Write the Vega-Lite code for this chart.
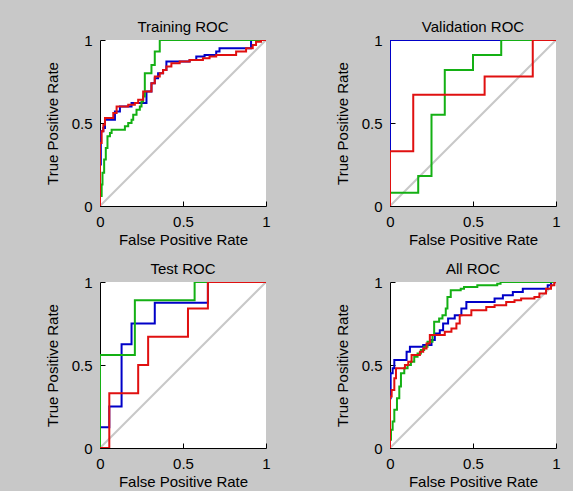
{
  "$schema": "https://vega.github.io/schema/vega-lite/v6.json",
  "background": "#c8c8c8",
  "autosize": {"type": "pad"},
  "padding": {"left": 45, "top": 20, "right": 12, "bottom": 2},
  "columns": 2,
  "bounds": "flush",
  "spacing": {"row": 76, "column": 124},
  "datasets": {
    "roc": [
      {"p":"train","c":"d","fpr":0,"tpr":0},{"p":"train","c":"d","fpr":1,"tpr":1},
      {"p":"train","c":"b","fpr":0,"tpr":0},{"p":"train","c":"b","fpr":0,"tpr":0.25},{"p":"train","c":"b","fpr":0.005,"tpr":0.45},{"p":"train","c":"b","fpr":0.02,"tpr":0.47},{"p":"train","c":"b","fpr":0.03,"tpr":0.52},{"p":"train","c":"b","fpr":0.09,"tpr":0.57},{"p":"train","c":"b","fpr":0.12,"tpr":0.6},{"p":"train","c":"b","fpr":0.19,"tpr":0.62},{"p":"train","c":"b","fpr":0.28,"tpr":0.69},{"p":"train","c":"b","fpr":0.31,"tpr":0.74},{"p":"train","c":"b","fpr":0.33,"tpr":0.77},{"p":"train","c":"b","fpr":0.35,"tpr":0.8},{"p":"train","c":"b","fpr":0.38,"tpr":0.82},{"p":"train","c":"b","fpr":0.4,"tpr":0.87},{"p":"train","c":"b","fpr":0.54,"tpr":0.88},{"p":"train","c":"b","fpr":0.58,"tpr":0.9},{"p":"train","c":"b","fpr":0.63,"tpr":0.91},{"p":"train","c":"b","fpr":0.7,"tpr":0.93},{"p":"train","c":"b","fpr":0.72,"tpr":0.95},{"p":"train","c":"b","fpr":0.91,"tpr":1},{"p":"train","c":"b","fpr":1,"tpr":1},
      {"p":"train","c":"g","fpr":0,"tpr":0},{"p":"train","c":"g","fpr":0,"tpr":0.06},{"p":"train","c":"g","fpr":0.01,"tpr":0.13},{"p":"train","c":"g","fpr":0.015,"tpr":0.2},{"p":"train","c":"g","fpr":0.025,"tpr":0.28},{"p":"train","c":"g","fpr":0.035,"tpr":0.35},{"p":"train","c":"g","fpr":0.045,"tpr":0.42},{"p":"train","c":"g","fpr":0.06,"tpr":0.44},{"p":"train","c":"g","fpr":0.07,"tpr":0.46},{"p":"train","c":"g","fpr":0.15,"tpr":0.48},{"p":"train","c":"g","fpr":0.17,"tpr":0.5},{"p":"train","c":"g","fpr":0.19,"tpr":0.52},{"p":"train","c":"g","fpr":0.2,"tpr":0.55},{"p":"train","c":"g","fpr":0.22,"tpr":0.58},{"p":"train","c":"g","fpr":0.24,"tpr":0.6},{"p":"train","c":"g","fpr":0.25,"tpr":0.63},{"p":"train","c":"g","fpr":0.26,"tpr":0.66},{"p":"train","c":"g","fpr":0.27,"tpr":0.8},{"p":"train","c":"g","fpr":0.31,"tpr":0.85},{"p":"train","c":"g","fpr":0.33,"tpr":0.93},{"p":"train","c":"g","fpr":0.36,"tpr":1},{"p":"train","c":"g","fpr":1,"tpr":1},
      {"p":"train","c":"r","fpr":0,"tpr":0},{"p":"train","c":"r","fpr":0,"tpr":0.38},{"p":"train","c":"r","fpr":0.01,"tpr":0.45},{"p":"train","c":"r","fpr":0.02,"tpr":0.49},{"p":"train","c":"r","fpr":0.03,"tpr":0.53},{"p":"train","c":"r","fpr":0.08,"tpr":0.56},{"p":"train","c":"r","fpr":0.1,"tpr":0.6},{"p":"train","c":"r","fpr":0.17,"tpr":0.61},{"p":"train","c":"r","fpr":0.21,"tpr":0.62},{"p":"train","c":"r","fpr":0.23,"tpr":0.64},{"p":"train","c":"r","fpr":0.26,"tpr":0.69},{"p":"train","c":"r","fpr":0.31,"tpr":0.74},{"p":"train","c":"r","fpr":0.33,"tpr":0.78},{"p":"train","c":"r","fpr":0.36,"tpr":0.8},{"p":"train","c":"r","fpr":0.38,"tpr":0.82},{"p":"train","c":"r","fpr":0.4,"tpr":0.84},{"p":"train","c":"r","fpr":0.43,"tpr":0.86},{"p":"train","c":"r","fpr":0.48,"tpr":0.87},{"p":"train","c":"r","fpr":0.54,"tpr":0.88},{"p":"train","c":"r","fpr":0.62,"tpr":0.89},{"p":"train","c":"r","fpr":0.66,"tpr":0.9},{"p":"train","c":"r","fpr":0.7,"tpr":0.91},{"p":"train","c":"r","fpr":0.82,"tpr":0.93},{"p":"train","c":"r","fpr":0.88,"tpr":0.95},{"p":"train","c":"r","fpr":0.92,"tpr":0.97},{"p":"train","c":"r","fpr":0.94,"tpr":0.99},{"p":"train","c":"r","fpr":0.97,"tpr":1},{"p":"train","c":"r","fpr":1,"tpr":1},

      {"p":"val","c":"d","fpr":0,"tpr":0},{"p":"val","c":"d","fpr":1,"tpr":1},
      {"p":"val","c":"b","fpr":0,"tpr":0},{"p":"val","c":"b","fpr":0,"tpr":1},{"p":"val","c":"b","fpr":1,"tpr":1},
      {"p":"val","c":"g","fpr":0,"tpr":0},{"p":"val","c":"g","fpr":0,"tpr":0.08},{"p":"val","c":"g","fpr":0.17,"tpr":0.18},{"p":"val","c":"g","fpr":0.25,"tpr":0.55},{"p":"val","c":"g","fpr":0.33,"tpr":0.82},{"p":"val","c":"g","fpr":0.5,"tpr":0.91},{"p":"val","c":"g","fpr":0.67,"tpr":1},{"p":"val","c":"g","fpr":1,"tpr":1},
      {"p":"val","c":"r","fpr":0,"tpr":0},{"p":"val","c":"r","fpr":0,"tpr":0.33},{"p":"val","c":"r","fpr":0.14,"tpr":0.67},{"p":"val","c":"r","fpr":0.57,"tpr":0.78},{"p":"val","c":"r","fpr":0.86,"tpr":1},{"p":"val","c":"r","fpr":1,"tpr":1},

      {"p":"test","c":"d","fpr":0,"tpr":0},{"p":"test","c":"d","fpr":1,"tpr":1},
      {"p":"test","c":"b","fpr":0,"tpr":0},{"p":"test","c":"b","fpr":0,"tpr":0.125},{"p":"test","c":"b","fpr":0.056,"tpr":0.25},{"p":"test","c":"b","fpr":0.13,"tpr":0.625},{"p":"test","c":"b","fpr":0.19,"tpr":0.75},{"p":"test","c":"b","fpr":0.33,"tpr":0.875},{"p":"test","c":"b","fpr":0.65,"tpr":1},{"p":"test","c":"b","fpr":1,"tpr":1},
      {"p":"test","c":"g","fpr":0,"tpr":0},{"p":"test","c":"g","fpr":0,"tpr":0.56},{"p":"test","c":"g","fpr":0.21,"tpr":0.89},{"p":"test","c":"g","fpr":0.57,"tpr":1},{"p":"test","c":"g","fpr":1,"tpr":1},
      {"p":"test","c":"r","fpr":0,"tpr":0},{"p":"test","c":"r","fpr":0.056,"tpr":0.33},{"p":"test","c":"r","fpr":0.23,"tpr":0.5},{"p":"test","c":"r","fpr":0.29,"tpr":0.67},{"p":"test","c":"r","fpr":0.53,"tpr":0.84},{"p":"test","c":"r","fpr":0.65,"tpr":1},{"p":"test","c":"r","fpr":1,"tpr":1},

      {"p":"all","c":"d","fpr":0,"tpr":0},{"p":"all","c":"d","fpr":1,"tpr":1},
      {"p":"all","c":"b","fpr":0,"tpr":0},{"p":"all","c":"b","fpr":0,"tpr":0.3},{"p":"all","c":"b","fpr":0.004,"tpr":0.45},{"p":"all","c":"b","fpr":0.016,"tpr":0.48},{"p":"all","c":"b","fpr":0.026,"tpr":0.53},{"p":"all","c":"b","fpr":0.1,"tpr":0.58},{"p":"all","c":"b","fpr":0.12,"tpr":0.61},{"p":"all","c":"b","fpr":0.2,"tpr":0.62},{"p":"all","c":"b","fpr":0.25,"tpr":0.65},{"p":"all","c":"b","fpr":0.27,"tpr":0.69},{"p":"all","c":"b","fpr":0.3,"tpr":0.71},{"p":"all","c":"b","fpr":0.32,"tpr":0.75},{"p":"all","c":"b","fpr":0.35,"tpr":0.78},{"p":"all","c":"b","fpr":0.39,"tpr":0.8},{"p":"all","c":"b","fpr":0.43,"tpr":0.84},{"p":"all","c":"b","fpr":0.46,"tpr":0.88},{"p":"all","c":"b","fpr":0.63,"tpr":0.9},{"p":"all","c":"b","fpr":0.68,"tpr":0.92},{"p":"all","c":"b","fpr":0.74,"tpr":0.94},{"p":"all","c":"b","fpr":0.8,"tpr":0.96},{"p":"all","c":"b","fpr":0.95,"tpr":0.98},{"p":"all","c":"b","fpr":0.97,"tpr":1},{"p":"all","c":"b","fpr":1,"tpr":1},
      {"p":"all","c":"g","fpr":0,"tpr":0},{"p":"all","c":"g","fpr":0,"tpr":0.05},{"p":"all","c":"g","fpr":0.006,"tpr":0.11},{"p":"all","c":"g","fpr":0.016,"tpr":0.16},{"p":"all","c":"g","fpr":0.026,"tpr":0.23},{"p":"all","c":"g","fpr":0.042,"tpr":0.3},{"p":"all","c":"g","fpr":0.056,"tpr":0.37},{"p":"all","c":"g","fpr":0.066,"tpr":0.45},{"p":"all","c":"g","fpr":0.086,"tpr":0.48},{"p":"all","c":"g","fpr":0.106,"tpr":0.5},{"p":"all","c":"g","fpr":0.126,"tpr":0.52},{"p":"all","c":"g","fpr":0.146,"tpr":0.55},{"p":"all","c":"g","fpr":0.166,"tpr":0.57},{"p":"all","c":"g","fpr":0.186,"tpr":0.59},{"p":"all","c":"g","fpr":0.206,"tpr":0.61},{"p":"all","c":"g","fpr":0.226,"tpr":0.64},{"p":"all","c":"g","fpr":0.256,"tpr":0.68},{"p":"all","c":"g","fpr":0.266,"tpr":0.76},{"p":"all","c":"g","fpr":0.296,"tpr":0.78},{"p":"all","c":"g","fpr":0.316,"tpr":0.8},{"p":"all","c":"g","fpr":0.336,"tpr":0.84},{"p":"all","c":"g","fpr":0.346,"tpr":0.91},{"p":"all","c":"g","fpr":0.366,"tpr":0.95},{"p":"all","c":"g","fpr":0.426,"tpr":0.96},{"p":"all","c":"g","fpr":0.446,"tpr":0.97},{"p":"all","c":"g","fpr":0.526,"tpr":0.98},{"p":"all","c":"g","fpr":0.646,"tpr":0.99},{"p":"all","c":"g","fpr":0.666,"tpr":1},{"p":"all","c":"g","fpr":1,"tpr":1},
      {"p":"all","c":"r","fpr":0,"tpr":0},{"p":"all","c":"r","fpr":0,"tpr":0.31},{"p":"all","c":"r","fpr":0.01,"tpr":0.35},{"p":"all","c":"r","fpr":0.026,"tpr":0.42},{"p":"all","c":"r","fpr":0.036,"tpr":0.48},{"p":"all","c":"r","fpr":0.09,"tpr":0.5},{"p":"all","c":"r","fpr":0.11,"tpr":0.52},{"p":"all","c":"r","fpr":0.13,"tpr":0.56},{"p":"all","c":"r","fpr":0.18,"tpr":0.58},{"p":"all","c":"r","fpr":0.2,"tpr":0.6},{"p":"all","c":"r","fpr":0.22,"tpr":0.63},{"p":"all","c":"r","fpr":0.24,"tpr":0.68},{"p":"all","c":"r","fpr":0.33,"tpr":0.7},{"p":"all","c":"r","fpr":0.37,"tpr":0.72},{"p":"all","c":"r","fpr":0.4,"tpr":0.75},{"p":"all","c":"r","fpr":0.42,"tpr":0.8},{"p":"all","c":"r","fpr":0.49,"tpr":0.83},{"p":"all","c":"r","fpr":0.58,"tpr":0.85},{"p":"all","c":"r","fpr":0.63,"tpr":0.86},{"p":"all","c":"r","fpr":0.7,"tpr":0.88},{"p":"all","c":"r","fpr":0.75,"tpr":0.89},{"p":"all","c":"r","fpr":0.79,"tpr":0.9},{"p":"all","c":"r","fpr":0.87,"tpr":0.91},{"p":"all","c":"r","fpr":0.9,"tpr":0.93},{"p":"all","c":"r","fpr":0.94,"tpr":0.96},{"p":"all","c":"r","fpr":0.97,"tpr":0.98},{"p":"all","c":"r","fpr":0.99,"tpr":1},{"p":"all","c":"r","fpr":1,"tpr":1}
    ]
  },
  "data": {"name": "roc"},
  "concat": [
    {
      "title": "Training ROC",
      "width": 166, "height": 166,
      "transform": [{"filter": "datum.p === 'train'"}],
      "encoding": {
        "x": {"field": "fpr", "type": "quantitative", "scale": {"domain": [0, 1], "nice": false}, "axis": {"title": "False Positive Rate", "values": [0, 0.5, 1]}},
        "y": {"field": "tpr", "type": "quantitative", "scale": {"domain": [0, 1], "nice": false}, "axis": {"title": "True Positive Rate", "values": [0, 0.5, 1]}},
        "order": {"value": null}
      },
      "layer": [
        {"transform": [{"filter": "datum.c === 'd'"}], "mark": {"type": "line", "color": "#c8c8c8", "strokeWidth": 2, "clip": true}},
        {"transform": [{"filter": "datum.c !== 'd'"}], "mark": {"type": "line", "interpolate": "step-after", "strokeWidth": 2, "clip": true},
         "encoding": {"color": {"field": "c", "type": "nominal", "scale": {"domain": ["b", "g", "r"], "range": ["#0000c8", "#14b014", "#e01010"]}, "legend": null}}}
      ]
    },
    {
      "title": "Validation ROC",
      "width": 166, "height": 166,
      "transform": [{"filter": "datum.p === 'val'"}],
      "encoding": {
        "x": {"field": "fpr", "type": "quantitative", "scale": {"domain": [0, 1], "nice": false}, "axis": {"title": "False Positive Rate", "values": [0, 0.5, 1]}},
        "y": {"field": "tpr", "type": "quantitative", "scale": {"domain": [0, 1], "nice": false}, "axis": {"title": "True Positive Rate", "values": [0, 0.5, 1]}},
        "order": {"value": null}
      },
      "layer": [
        {"transform": [{"filter": "datum.c === 'd'"}], "mark": {"type": "line", "color": "#c8c8c8", "strokeWidth": 2, "clip": true}},
        {"transform": [{"filter": "datum.c !== 'd'"}], "mark": {"type": "line", "interpolate": "step-after", "strokeWidth": 2, "clip": true},
         "encoding": {"color": {"field": "c", "type": "nominal", "scale": {"domain": ["b", "g", "r"], "range": ["#0000c8", "#14b014", "#e01010"]}, "legend": null}}}
      ]
    },
    {
      "title": "Test ROC",
      "width": 166, "height": 166,
      "transform": [{"filter": "datum.p === 'test'"}],
      "encoding": {
        "x": {"field": "fpr", "type": "quantitative", "scale": {"domain": [0, 1], "nice": false}, "axis": {"title": "False Positive Rate", "values": [0, 0.5, 1]}},
        "y": {"field": "tpr", "type": "quantitative", "scale": {"domain": [0, 1], "nice": false}, "axis": {"title": "True Positive Rate", "values": [0, 0.5, 1]}},
        "order": {"value": null}
      },
      "layer": [
        {"transform": [{"filter": "datum.c === 'd'"}], "mark": {"type": "line", "color": "#c8c8c8", "strokeWidth": 2, "clip": true}},
        {"transform": [{"filter": "datum.c !== 'd'"}], "mark": {"type": "line", "interpolate": "step-after", "strokeWidth": 2, "clip": true},
         "encoding": {"color": {"field": "c", "type": "nominal", "scale": {"domain": ["b", "g", "r"], "range": ["#0000c8", "#14b014", "#e01010"]}, "legend": null}}}
      ]
    },
    {
      "title": "All ROC",
      "width": 166, "height": 166,
      "transform": [{"filter": "datum.p === 'all'"}],
      "encoding": {
        "x": {"field": "fpr", "type": "quantitative", "scale": {"domain": [0, 1], "nice": false}, "axis": {"title": "False Positive Rate", "values": [0, 0.5, 1]}},
        "y": {"field": "tpr", "type": "quantitative", "scale": {"domain": [0, 1], "nice": false}, "axis": {"title": "True Positive Rate", "values": [0, 0.5, 1]}},
        "order": {"value": null}
      },
      "layer": [
        {"transform": [{"filter": "datum.c === 'd'"}], "mark": {"type": "line", "color": "#c8c8c8", "strokeWidth": 2, "clip": true}},
        {"transform": [{"filter": "datum.c !== 'd'"}], "mark": {"type": "line", "interpolate": "step-after", "strokeWidth": 2, "clip": true},
         "encoding": {"color": {"field": "c", "type": "nominal", "scale": {"domain": ["b", "g", "r"], "range": ["#0000c8", "#14b014", "#e01010"]}, "legend": null}}}
      ]
    }
  ],
  "config": {
    "font": "Liberation Sans",
    "view": {"fill": "white", "stroke": null},
    "axis": {
      "format": "~g",
      "grid": false,
      "domainColor": "black",
      "domainWidth": 1,
      "ticks": true,
      "tickColor": "black",
      "tickWidth": 1,
      "tickSize": -5,
      "labelFont": "Liberation Sans",
      "labelFontSize": 15,
      "labelColor": "black",
      "labelFlush": false,
      "labelOverlap": false,
      "labelPadding": 13,
      "titleFont": "Liberation Sans",
      "titleFontSize": 15,
      "titleFontWeight": "normal",
      "titleColor": "black",
      "zindex": 0
    },
    "axisX": {"titlePadding": 3},
    "axisY": {"titlePadding": 11, "labelBaseline": "middle"},
    "title": {"font": "Liberation Sans", "fontSize": 15, "fontWeight": "normal", "color": "black", "frame": "group", "anchor": "middle", "baseline": "alphabetic", "offset": -2}
  }
}
